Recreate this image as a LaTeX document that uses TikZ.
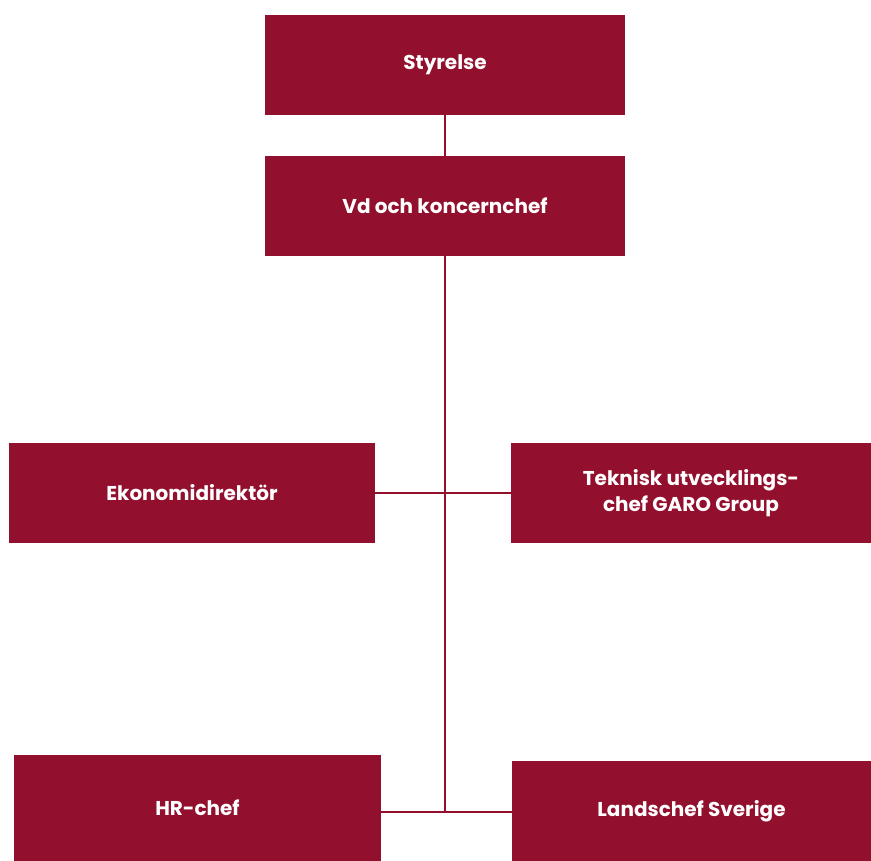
\documentclass[tikz,border=0pt]{standalone}
\usepackage{fontspec}
\setmainfont{Poppins}
\usepackage{xcolor}
\usetikzlibrary{positioning}
\definecolor{garored}{HTML}{920F2D}

\begin{document}
\begin{tikzpicture}[x=1pt, y=1pt, every node/.style={rectangle, fill=garored, text=white, font=\bfseries\fontsize{20}{26}\selectfont, align=center, inner sep=0pt, minimum height=100pt}]
  \useasboundingbox (0,0) rectangle (871,861);
  \node (sty) [minimum width=360pt] at (445,796) {Styrelse};
  \node (vd) [minimum width=360pt] at (445,655) {Vd och koncernchef};
  \node (eko) [minimum width=366pt] at (192,368) {Ekonomidirektör};
  \node (tek) [minimum width=360pt] at (691,368) {Teknisk utvecklings-\\chef GARO Group};
  \node (hr) [minimum width=367pt, minimum height=106pt] at (197.5,53) {HR-chef};
  \node (land) [minimum width=359pt] at (691.5,50) {Landschef Sverige};
  \coordinate (bot) at (445,49);
  \draw[garored, line width=2pt] (sty) -- (vd);
  \draw[garored, line width=2pt] (vd) -- (bot);
  \draw[garored, line width=2pt] (eko) -- (tek);
  \draw[garored, line width=2pt] (hr.east |- bot) -- (land.west |- bot);
\end{tikzpicture}
\end{document}
